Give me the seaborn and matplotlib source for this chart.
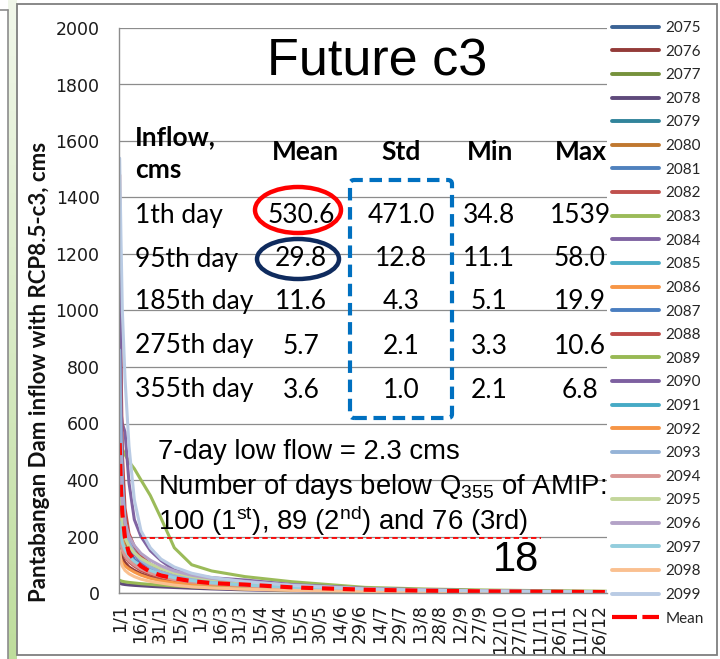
import numpy as np
import pandas as pd
import matplotlib
matplotlib.use("Agg")
import matplotlib.pyplot as plt
import seaborn as sns
from matplotlib.patches import Ellipse, FancyBboxPatch, Rectangle
from matplotlib.lines import Line2D

# ---------------- data ----------------
# ranked day of the flow-duration curve
days = [1, 2, 3, 5, 8, 12, 17, 24, 32, 42, 55, 70, 95, 130, 185, 230, 275, 320, 355, 366]

years = [str(y) for y in range(2075, 2100)]

q2075 = [950, 520, 330, 210, 150, 118, 95, 78, 64, 52, 43, 37, 31, 21, 12.0, 8.6, 6.0, 4.5, 3.8, 3.5]
q2076 = [160, 140, 125, 108, 92, 80, 68, 57, 48, 40, 33, 28, 22, 15, 9.0, 6.2, 4.4, 3.3, 2.8, 2.6]
q2077 = [160, 150, 142, 130, 118, 105, 92, 78, 66, 55, 45, 38, 32, 22, 12.5, 8.8, 6.3, 4.7, 3.9, 3.6]
q2078 = [34.8, 33, 31.5, 30, 28.5, 27, 25.5, 23.5, 21.5, 19.5, 17, 14.5, 11.1, 7.8, 5.1, 4.0, 3.3, 2.6, 2.1, 1.9]
q2079 = [420, 310, 250, 200, 165, 140, 118, 98, 80, 64, 52, 43, 34, 23, 13, 9.2, 6.4, 4.8, 4.0, 3.7]
q2080 = [900, 480, 300, 190, 140, 112, 92, 75, 61, 50, 41, 34, 27, 18, 10.5, 7.2, 5.0, 3.8, 3.2, 2.9]
q2081 = [1350, 700, 420, 260, 185, 145, 118, 96, 78, 63, 50, 41, 32, 22, 12.4, 8.6, 6.0, 4.5, 3.7, 3.4]
q2082 = [200, 170, 150, 128, 110, 95, 80, 66, 55, 45, 37, 31, 24, 16, 9.5, 6.6, 4.7, 3.5, 2.9, 2.7]
q2083 = [610, 540, 510, 490, 465, 440, 400, 345, 265, 160, 100, 78, 58.0, 40, 19.9, 14.2, 10.6, 8.2, 6.8, 6.3]
q2084 = [700, 640, 600, 570, 390, 260, 200, 150, 115, 81, 65, 54, 46, 30, 16.5, 11.5, 8.2, 6.0, 5.0, 4.6]
q2085 = [240, 200, 175, 150, 130, 112, 96, 80, 66, 54, 44, 37, 29, 19, 11, 7.8, 5.5, 4.1, 3.4, 3.1]
q2086 = [130, 118, 108, 96, 85, 74, 63, 52, 43, 36, 30, 25, 19, 13, 7.8, 5.5, 3.9, 3.0, 2.5, 2.3]
q2087 = [250, 210, 185, 160, 138, 118, 100, 83, 68, 56, 46, 38, 30, 20, 11.5, 8.0, 5.6, 4.2, 3.5, 3.2]
q2088 = [1480, 820, 500, 300, 210, 165, 130, 102, 82, 66, 53, 43, 34, 23, 13, 9.0, 6.3, 4.7, 3.9, 3.6]
q2089 = [45, 43, 41.5, 39.5, 37.5, 35.5, 33, 30.5, 28, 25, 22, 18.5, 14.5, 10, 6.0, 4.6, 3.6, 2.8, 2.3, 2.1]
q2090 = [1250, 680, 410, 250, 175, 138, 110, 88, 72, 58, 47, 39, 31, 21, 12, 8.4, 5.9, 4.4, 3.6, 3.3]
q2091 = [200, 175, 155, 135, 118, 102, 88, 73, 60, 49, 40, 33, 26, 17, 10, 7.0, 5.0, 3.7, 3.1, 2.8]
q2092 = [310, 230, 190, 155, 128, 106, 88, 72, 59, 48, 39, 32, 25, 16, 9.5, 6.6, 4.6, 3.5, 2.9, 2.7]
q2093 = [860, 560, 390, 255, 180, 142, 115, 92, 75, 61, 50, 41, 33, 22, 12.6, 8.8, 6.1, 4.6, 3.8, 3.5]
q2094 = [200, 172, 152, 132, 114, 99, 85, 71, 59, 48, 39, 33, 26, 17, 10, 7.0, 4.9, 3.7, 3.1, 2.8]
q2095 = [356, 280, 235, 195, 165, 142, 122, 103, 86, 71, 58, 48, 38, 26, 14.5, 10.2, 7.2, 5.3, 4.4, 4.0]
q2096 = [520, 400, 320, 250, 200, 168, 140, 116, 96, 78, 63, 52, 41, 28, 15.5, 11, 7.6, 5.6, 4.6, 4.2]
q2097 = [250, 205, 178, 152, 130, 112, 96, 80, 66, 54, 44, 36, 28, 19, 11, 7.6, 5.4, 4.0, 3.3, 3.0]
q2098 = [150, 110, 95, 80, 68, 58, 49, 41, 35, 28, 22, 18, 13.5, 9.2, 5.6, 4.2, 3.4, 2.7, 2.2, 2.0]
q2099 = [1539, 1250, 1000, 760, 520, 330, 220, 160, 120, 92, 70, 55, 40, 27, 14, 9.8, 6.9, 5.1, 4.2, 3.8]

q_mean = [530.6, 360, 280, 195, 140, 118, 95, 75, 62, 52, 42, 35, 29.8, 20, 11.6, 8.0, 5.7, 4.3, 3.6, 3.3]

series = [q2075, q2076, q2077, q2078, q2079, q2080, q2081, q2082, q2083, q2084,
          q2085, q2086, q2087, q2088, q2089, q2090, q2091, q2092, q2093, q2094,
          q2095, q2096, q2097, q2098, q2099]

colors = ['#3B6395', '#943B39', '#76923C', '#5F4A7B', '#31849B', '#C0782F',
          '#4F81BD', '#C0504D', '#9BBB59', '#8064A2', '#4BACC6', '#F79646',
          '#4A7EC0', '#BE4B48', '#98B954', '#7D60A0', '#46AAC5', '#F69546',
          '#95B3D7', '#D99694', '#C3D69B', '#B3A2C7', '#93CDDD', '#FAC090', '#B9CBE4']

tick_days = [1, 16, 31, 46, 61, 76, 91, 106, 121, 136, 151, 166, 181, 196, 211,
             226, 241, 256, 271, 286, 301, 316, 331, 346, 361]
tick_labels = ['1/1', '16/1', '31/1', '15/2', '1/3', '16/3', '31/3', '15/4', '30/4',
               '15/5', '30/5', '14/6', '29/6', '14/7', '29/7', '13/8', '28/8', '12/9',
               '27/9', '12/10', '27/10', '11/11', '26/11', '11/12', '26/12']

# Q355 threshold of AMIP drawn as a reference line
q355_level = 193
q355_span = [17, 317]

# summary table
row_names = ['1th day', '95th day', '185th day', '275th day', '355th day']
col_mean = ['530.6', '29.8', '11.6', '5.7', '3.6']
col_std = ['471.0', '12.8', '4.3', '2.1', '1.0']
col_min = ['34.8', '11.1', '5.1', '3.3', '2.1']
col_max = ['1539', '58.0', '19.9', '10.6', '6.8']

# ---------------- figure ----------------
sns.set_style("white")
plt.rcParams['font.family'] = ['DejaVu Sans']
plt.rcParams['mathtext.fontset'] = 'custom'
plt.rcParams['mathtext.rm'] = 'Liberation Sans'
plt.rcParams['mathtext.it'] = 'Liberation Sans:italic'
plt.rcParams['mathtext.bf'] = 'Liberation Sans:bold'

W, H = 720, 659
fig = plt.figure(figsize=(W / 100, H / 100), dpi=100)
fig.patch.set_facecolor('white')


def fx(x):
    return x / W


def fy(y):
    return 1 - y / H


# slide side strip and frame
strip = fig.add_axes([fx(8), 0, 9 / W, 1])
grad = np.linspace(0, 1, 256).reshape(-1, 1)
strip.imshow(grad, aspect='auto', cmap=matplotlib.colors.LinearSegmentedColormap.from_list(
    'g', ['#F1F7EA', '#D9EBC6', '#BEDD9C']), extent=[0, 1, 0, 1], origin='upper')
strip.set_axis_off()
fig.add_artist(Line2D([fx(8), fx(8)], [0, fy(10)], color='#8C8C8C', lw=1.2))
fig.add_artist(Line2D([0, fx(8)], [fy(10), fy(10)], color='#8C8C8C', lw=1.2))
fig.add_artist(Rectangle((fx(17), fy(655)), 700 / W, 651 / H, fill=False,
                         edgecolor='#7F7F7F', lw=1.3))

ax = fig.add_axes([fx(119), fy(593), 488 / W, 565 / H])

rows = []
for yr, vals in zip(years, series):
    for d, v in zip(days, vals):
        rows.append((yr, d, v))
df = pd.DataFrame(rows, columns=['year', 'day', 'flow'])

sns.lineplot(data=df, x='day', y='flow', hue='year', hue_order=years,
             palette=colors, lw=2.2, legend=False, errorbar=None, ax=ax)

sns.lineplot(x=days, y=q_mean, color='#FF0000', lw=3, errorbar=None, ax=ax)
mean_line = ax.get_lines()[-1]
mean_line.set_dashes((2.9, 2.1))
mean_line.set_dash_capstyle('butt')

ax.hlines(q355_level, q355_span[0], q355_span[1], colors='#FF0000', lw=1.3,
          linestyles=(0, (3, 1.8)), zorder=4)

ax.set_xlim(0.5, 366.5)
ax.set_ylim(0, 2000)
ax.set_yticks(range(0, 2001, 200))
ax.set_xticks(tick_days)
ax.set_xticklabels(tick_labels, rotation=90)
ax.grid(axis='y', color='#8C8C8C', lw=0.9)
ax.grid(axis='x', visible=False)
ax.set_axisbelow(True)
for s in ['top', 'right']:
    ax.spines[s].set_visible(False)
for s in ['left', 'bottom']:
    ax.spines[s].set_color('#8C8C8C')
    ax.spines[s].set_linewidth(1.0)
ax.tick_params(axis='both', direction='out', length=4, width=0.9, color='#8C8C8C',
               labelsize=12.5, labelcolor='#1A1A1A')
ax.tick_params(axis='y', pad=10)
ax.tick_params(axis='x', pad=4)
ax.set_xlabel('')
ax.set_ylabel('Pantabangan Dam inflow with RCP8.5-c3, cms', fontfamily='Lato',
              fontweight='bold', fontsize=16, color='#111111')
ax.yaxis.label.set_va('center')
ax.yaxis.set_label_coords((40 - 119) / 488, (593 - 372) / 565)

# legend
handles = [Line2D([], [], color=c, lw=2.8) for c in colors]
handles.append(Line2D([], [], color='#FF0000', lw=3, dashes=(6, 1.3), dash_capstyle='butt'))
labels = years + ['Mean']
fig.legend(handles, labels, loc='upper left', bbox_to_anchor=(fx(612), fy(21)),
           frameon=False, prop={'family': 'Lato', 'size': 11}, handlelength=3.05,
           handletextpad=0.45, labelspacing=0.63, borderpad=0, borderaxespad=0)

# title
fig.text(fx(377), fy(62), 'Future c3', family='Liberation Sans', fontsize=37.5,
         ha='center', va='center', color='black')

# table
tfont = dict(family='Lato', fontsize=19, color='black', va='center')
fig.text(fx(135), fy(137), 'Inflow,', fontweight='bold', ha='left', **tfont)
fig.text(fx(135), fy(170), 'cms', fontweight='bold', ha='left', **tfont)
for name, xc in [('Mean', 305), ('Std', 401), ('Min', 490), ('Max', 581)]:
    fig.text(fx(xc), fy(152), name, fontweight='bold', ha='center', **tfont)
row_y = [215, 259, 302, 346, 390]
for i, yy in enumerate(row_y):
    fig.text(fx(135), fy(yy), row_names[i], ha='left', **tfont)
    fig.text(fx(301), fy(yy), col_mean[i], ha='center', **tfont)
    fig.text(fx(401), fy(yy), col_std[i], ha='center', **tfont)
    fig.text(fx(489), fy(yy), col_min[i], ha='center', **tfont)
    fig.text(fx(580), fy(yy), col_max[i], ha='center', **tfont)

fig.add_artist(Ellipse((fx(298), fy(210)), 86 / W, 46 / H, fill=False,
                       edgecolor='#FF0000', lw=3.2, transform=fig.transFigure))
fig.add_artist(Ellipse((fx(298), fy(259)), 82 / W, 40 / H, fill=False,
                       edgecolor='#0F2B5E', lw=3.2, transform=fig.transFigure))
fig.add_artist(FancyBboxPatch((fx(350), fy(418)), 102 / W, 238 / H,
                              boxstyle='round,pad=0,rounding_size=0.006',
                              fill=False, edgecolor='#0070C0', lw=3,
                              linestyle=(0, (3, 1.6)), transform=fig.transFigure))

# notes
nfont = dict(family='Liberation Sans', fontsize=19.8, color='black', va='center', ha='left')
fig.text(fx(158), fy(452), '7-day low flow = 2.3 cms', **nfont)
fig.text(fx(158), fy(487), r'Number of days below Q$_\mathrm{355}$ of AMIP:', **nfont)
fig.text(fx(158), fy(521), r'100 (1$^\mathrm{st}$), 89 (2$^\mathrm{nd}$) and 76 (3rd)', **nfont)
fig.text(fx(516), fy(560), '18', family='Liberation Sans', fontsize=30, color='black',
         ha='center', va='center')

fig.savefig('out.png', dpi=100)
